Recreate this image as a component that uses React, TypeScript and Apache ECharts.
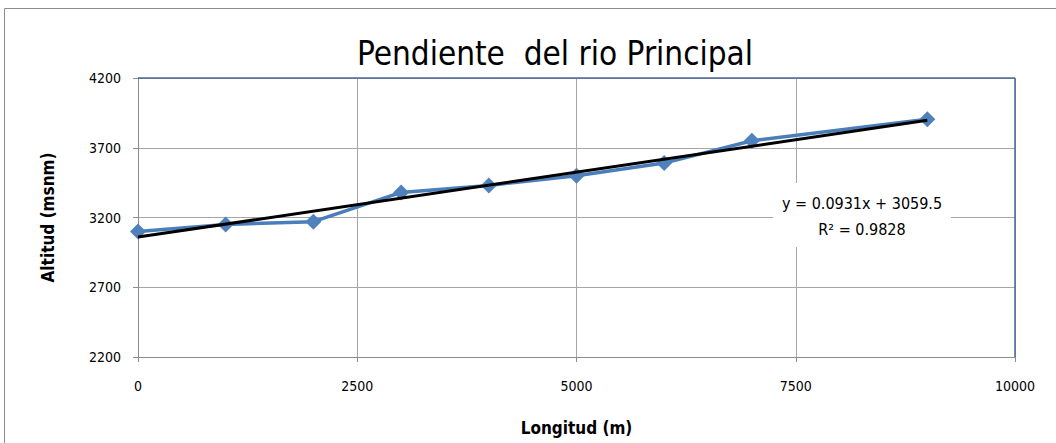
import React, { useEffect, useRef } from "react";
import * as echarts from "echarts";

const longitudes = [0, 1000, 2000, 3000, 4000, 5000, 6000, 7000, 9000];
const altitudes = [3100, 3150, 3170, 3380, 3430, 3500, 3590, 3750, 3905];
const trendSlope = 0.0931;
const trendIntercept = 3059.5;
const trendX = [0, 9000];
const equationLines = ["y = 0.0931x + 3059.5", "R² = 0.9828"];

const FONT = "'DejaVu Sans Condensed', 'Liberation Sans Narrow', sans-serif";

export default function App() {
  const ref = useRef<HTMLDivElement>(null);
  useEffect(() => {
    if (!ref.current) return;
    const chart = echarts.init(ref.current, undefined, { renderer: "svg" });
    const obs = longitudes.map((x, i) => [x, altitudes[i]]);
    const trend = trendX.map((x) => [x, trendIntercept + trendSlope * x]);
    chart.setOption({
      animation: false,
      backgroundColor: "#fff",
      title: {
        text: "Pendiente  del rio Principal",
        left: 550,
        textAlign: "center",
        top: 32,
        textStyle: { fontFamily: FONT, fontSize: 33, fontWeight: "normal", color: "#000" },
      },
      grid: { left: 138, right: 41, top: 78, bottom: 86, containLabel: false },
      xAxis: {
        type: "value",
        min: 0,
        max: 10000,
        interval: 2500,
        name: "Longitud (m)",
        nameLocation: "middle",
        nameGap: 62,
        nameTextStyle: { fontFamily: FONT, fontSize: 17, fontWeight: "bold", color: "#000" },
        axisLine: { show: true, lineStyle: { color: "#8c8c8c", width: 1 } },
        axisTick: { show: true, length: 5, lineStyle: { color: "#8c8c8c" } },
        axisLabel: { fontFamily: FONT, fontSize: 14, color: "#000", margin: 22, formatter: (v: number) => String(v) },
        splitLine: { show: true, lineStyle: { color: "#a6a6a6", width: 1 } },
      },
      yAxis: {
        type: "value",
        min: 2200,
        max: 4200,
        interval: 500,
        name: "Altitud (msnm)",
        nameLocation: "middle",
        nameGap: 82,
        nameTextStyle: { fontFamily: FONT, fontSize: 17, fontWeight: "bold", color: "#000" },
        axisLine: { show: true, lineStyle: { color: "#8c8c8c", width: 1 } },
        axisTick: { show: true, length: 5, lineStyle: { color: "#8c8c8c" } },
        axisLabel: { fontFamily: FONT, fontSize: 14, color: "#000", margin: 17, formatter: (v: number) => String(v) },
        splitLine: { show: true, lineStyle: { color: "#a6a6a6", width: 1 } },
      },
      graphic: [
        {
          type: "rect",
          z: -10,
          shape: { x: 4.5, y: 8.5, width: 1100, height: 500 },
          style: { fill: "none", stroke: "#8c8c8c", lineWidth: 1 },
          silent: true,
        },
        {
          type: "line",
          z: 10,
          shape: { x1: 138, y1: 78, x2: 1015, y2: 78 },
          style: { stroke: "#4a6a94", lineWidth: 1.5 },
        },
        {
          type: "line",
          z: 10,
          shape: { x1: 1015, y1: 78, x2: 1015, y2: 357 },
          style: { stroke: "#4a6a94", lineWidth: 1.5 },
        },
        {
          type: "rect",
          z: 20,
          shape: { x: 773, y: 183, width: 178, height: 64 },
          style: { fill: "#fff" },
        },
        {
          type: "text",
          z: 21,
          x: 862,
          y: 203,
          style: {
            text: equationLines[0],
            fontFamily: FONT,
            fontSize: 16,
            fill: "#000",
            align: "center",
            verticalAlign: "middle",
          },
        },
        {
          type: "text",
          z: 21,
          x: 862,
          y: 229,
          style: {
            text: equationLines[1],
            fontFamily: FONT,
            fontSize: 16,
            fill: "#000",
            align: "center",
            verticalAlign: "middle",
          },
        },
      ],
      series: [
        {
          type: "line",
          name: "Altitud",
          data: obs,
          symbol: "diamond",
          symbolSize: 16,
          lineStyle: { color: "#4a7ebb", width: 3.5 },
          itemStyle: { color: "#4f81bd" },
          z: 3,
        },
        {
          type: "line",
          name: "Tendencia",
          data: trend,
          symbol: "none",
          lineStyle: { color: "#000", width: 3 },
          z: 4,
        },
      ],
    });
    return () => chart.dispose();
  }, []);
  return (
    <div
      ref={ref}
      style={{ position: "absolute", left: 0, top: 0, width: 1056, height: 443 }}
    />
  );
}
